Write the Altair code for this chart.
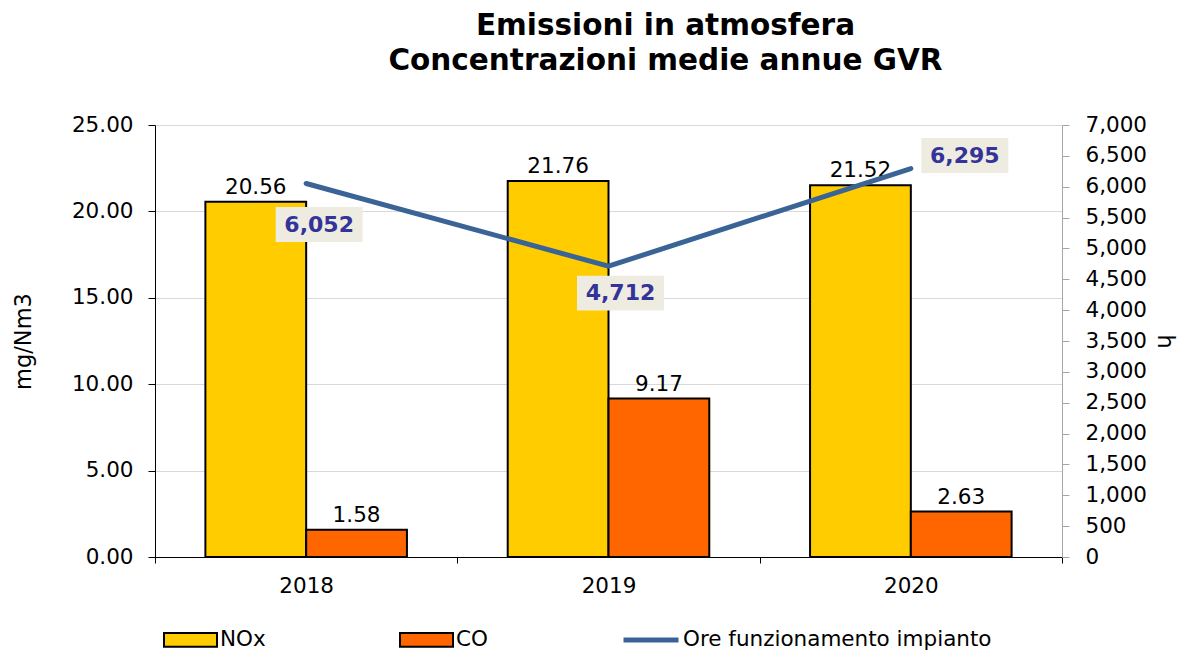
import altair as alt
import pandas as pd

YEARS = ["2018", "2019", "2020"]
NOX = [20.56, 21.76, 21.52]
CO = [1.58, 9.17, 2.63]
HOURS = [6052, 4712, 6295]
BAR_SERIES = ["NOx", "CO"]
LINE_SERIES = ["Ore funzionamento impianto"]
LEFT_TICKS = [0, 5, 10, 15, 20, 25]
RIGHT_TICKS = list(range(0, 7001, 500))

BAR_COLORS = ["#FFCC00", "#FF6600"]
LINE_COLOR = "#3A6496"
FONT = "DejaVu Sans"
# label box placement (pixels, style only)
LABEL_SHIFT = {"2018": (13, 41), "2019": (12, 27), "2020": (54, -13)}

bars_df = pd.DataFrame(
    [{"year": y, "series": "NOx", "value": v} for y, v in zip(YEARS, NOX)]
    + [{"year": y, "series": "CO", "value": v} for y, v in zip(YEARS, CO)]
)
line_df = pd.DataFrame({"year": YEARS, "hours": HOURS, "series": LINE_SERIES[0]})

RECT_PATH = "M-1,-0.26L1,-0.26L1,0.26L-1,0.26Z"
bar_legend = alt.Legend(
    orient="none", legendX=8, legendY=487, direction="horizontal", title=None,
    symbolType=RECT_PATH, symbolSize=2809, columnPadding=130,
    symbolStrokeColor="black", symbolStrokeWidth=2, symbolOpacity=1,
    labelFont=FONT, labelFontSize=21.5, labelColor="black", labelOffset=2, labelLimit=500,
)
line_legend = alt.Legend(
    orient="none", legendX=466, legendY=485, direction="horizontal", title=None,
    symbolType="stroke", symbolSize=3025, symbolStrokeWidth=5,
    labelFont=FONT, labelFontSize=21.5, labelColor="black", labelOffset=2, labelLimit=500,
)

x = alt.X("year:N", title=None,
          scale=alt.Scale(paddingInner=0, paddingOuter=0),
          axis=alt.Axis(tickBand="extent", labelAngle=0, labelFont=FONT, labelFontSize=21.5,
                        labelColor="black", labelPadding=12, tickSize=6, tickColor="black",
                        domainColor="black", grid=False))
xoff = alt.XOffset("series:N", scale=alt.Scale(domain=BAR_SERIES, paddingInner=0, paddingOuter=0.5))

y_left = alt.Y("value:Q", title="mg/Nm3",
               scale=alt.Scale(domain=[0, 25], nice=False),
               axis=alt.Axis(values=LEFT_TICKS, format=".2f", labelFont=FONT, labelFontSize=21.5,
                             labelColor="black", labelPadding=15, tickSize=7, tickColor="black",
                             domainColor="black", gridColor="#D9D9D9", grid=True,
                             titleFont=FONT, titleFontSize=22.5, titleFontWeight="normal",
                             titleColor="black", titlePadding=36))

bars = alt.Chart(bars_df).mark_bar(stroke="black", strokeWidth=2, opacity=1).encode(
    x=x, xOffset=xoff, y=y_left,
    color=alt.Color("series:N", scale=alt.Scale(domain=BAR_SERIES, range=BAR_COLORS),
                    legend=bar_legend))
bar_text = alt.Chart(bars_df).mark_text(font=FONT, fontSize=21.5, color="black",
                                         baseline="alphabetic", dy=-8).encode(
    x=x, xOffset=xoff, y=y_left, text=alt.Text("value:Q", format=".2f"))
left = alt.layer(bars, bar_text)

y_right = alt.Y("hours:Q", title="h",
                scale=alt.Scale(domain=[0, 7000], nice=False),
                axis=alt.Axis(orient="right", values=RIGHT_TICKS, format=",.0f", labelFont=FONT,
                              labelFontSize=21.5, labelColor="black", labelPadding=16, tickSize=7,
                              tickColor="#A6A6A6", domainColor="#A6A6A6", grid=False,
                              titleFont=FONT, titleFontSize=22.5, titleFontWeight="normal",
                              titleColor="black", titlePadding=6))

line = alt.Chart(line_df).mark_line(strokeWidth=5, strokeCap="round").encode(
    x=x, y=y_right,
    stroke=alt.Stroke("series:N", scale=alt.Scale(domain=LINE_SERIES, range=[LINE_COLOR]),
                      legend=line_legend))

label_layers = []
for yr, (dx, dy) in LABEL_SHIFT.items():
    base = alt.Chart(line_df).transform_filter(alt.datum.year == yr)
    box = base.mark_point(shape="M-1,-0.4L1,-0.4L1,0.4L-1,0.4Z", size=7569, filled=True,
                          fill="#EEECE1", opacity=1, strokeWidth=0,
                          xOffset=dx, yOffset=dy).encode(x=x, y=y_right)
    txt = base.mark_text(font=FONT, fontSize=22, fontWeight="bold", color="#333399",
                         dx=dx, dy=dy).encode(x=x, y=y_right,
                                               text=alt.Text("hours:Q", format=","))
    label_layers += [box, txt]

right = alt.layer(line, *label_layers)

chart = alt.layer(left, right).resolve_scale(y="independent").properties(
    width=907, height=432,
    autosize=alt.AutoSizeParams(type="none"),
    padding={"left": 147, "top": 117, "right": 117, "bottom": 94},
    title=alt.TitleParams(["Emissioni in atmosfera", "Concentrazioni medie annue GVR"],
                          font=FONT, fontSize=29.5, fontWeight="bold", color="black",
                          lineHeight=35, dx=57, offset=38),
).configure_view(stroke=None).configure(background="white")

chart.save("out.html", embed_options={"renderer": "svg", "actions": False})
